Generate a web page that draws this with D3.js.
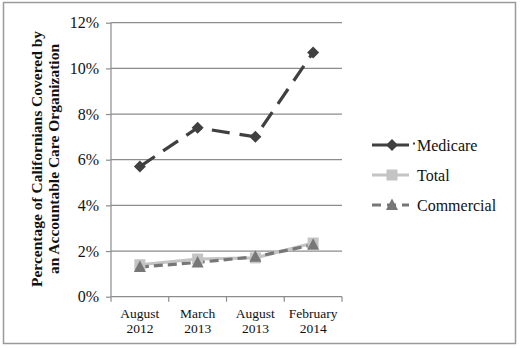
<!DOCTYPE html>
<html><head><meta charset="utf-8">
<script src="https://cdn.jsdelivr.net/npm/d3@7"></script>
<style>body{margin:0;background:#fff}svg{display:block}svg text{font-family:"Liberation Serif","Times New Roman",serif !important}</style>
</head><body><svg id="c" width="520" height="348"></svg>
<script>
const categories = [["August","2012"],["March","2013"],["August","2013"],["February","2014"]];
const medicare = [5.7, 7.4, 7.0, 10.7];
const total = [1.4, 1.65, 1.7, 2.35];
const commercial = [1.3, 1.5, 1.75, 2.27];
const yTicks = [0,2,4,6,8,10,12];
const seriesNames = ["Medicare","Total","Commercial"];

const svg = d3.select("#c");
svg.append("rect").attr("x",3.5).attr("y",2.5).attr("width",512).attr("height",341)
  .attr("fill","#fff").attr("stroke","#9a9a9a").attr("stroke-width",1.5);

const x = d3.scaleBand().domain(d3.range(categories.length)).range([111,342]);
const y = d3.scaleLinear().domain([0,12]).range([296.7,22.7]);
const cx = i => x(i) + x.bandwidth()/2;

// gridlines
svg.append("g").selectAll("line").data(yTicks.filter(d=>d>0)).join("line")
  .attr("x1",111).attr("x2",342).attr("y1",d=>y(d)).attr("y2",d=>y(d))
  .attr("stroke","#8c8c8c").attr("stroke-width",1.2);

// y axis
const ya = svg.append("g").attr("transform","translate(111,0)")
  .call(d3.axisLeft(y).tickValues(yTicks).tickFormat(d=>d+"%").tickSize(5).tickPadding(7));
ya.attr("font-family",null);
ya.select(".domain").attr("stroke","#8c8c8c").attr("stroke-width",1.2).attr("d","M0,"+y(12)+"V"+y(0));
ya.selectAll(".tick line").attr("stroke","#8c8c8c").attr("stroke-width",1.2);
ya.selectAll(".tick text").attr("font-size",16).attr("fill","#111");

// x axis
const xa = svg.append("g").attr("transform","translate(0,"+y(0)+")");
xa.append("line").attr("x1",111).attr("x2",342).attr("stroke","#8c8c8c").attr("stroke-width",1.2);
xa.selectAll("line.t").data(d3.range(categories.length+1)).join("line").attr("class","t")
  .attr("x1",i=>111+i*x.bandwidth()).attr("x2",i=>111+i*x.bandwidth()).attr("y1",0).attr("y2",5)
  .attr("stroke","#8c8c8c").attr("stroke-width",1.2);
const xl = xa.selectAll("text").data(categories).join("text")
  .attr("x",(d,i)=>cx(i)).attr("y",21).attr("text-anchor","middle").attr("font-size",13.5).attr("fill","#111");
xl.append("tspan").attr("x",(d,i)=>cx(i)).text(d=>d[0]);
xl.append("tspan").attr("x",(d,i)=>cx(i)).attr("dy",15).text(d=>d[1]);

// y title
const yt = svg.append("text").attr("transform","translate(0,159) rotate(-90)").attr("text-anchor","middle")
  .attr("font-size",15.5).attr("font-weight","bold").attr("fill","#111");
yt.append("tspan").attr("x",0).attr("y",42).text("Percentage of Californians Covered by");
yt.append("tspan").attr("x",0).attr("y",59).text("an Accountable Care Organization");

const line = d3.line().x((d,i)=>cx(i)).y(d=>y(d));
const styles = [
  {data:medicare, color:"#404040", dash:"18,10", w:3.2, marker:"diamond"},
  {data:total, color:"#c4c4c4", dash:null, w:3.2, marker:"square"},
  {data:commercial, color:"#777777", dash:"9,5", w:3.2, marker:"triangle"}
];
const order = [1,2,0];
order.forEach(k=>{
  const s = styles[k];
  svg.append("path").datum(s.data).attr("d",line).attr("fill","none")
    .attr("stroke",s.color).attr("stroke-width",s.w).attr("stroke-dasharray",s.dash);
});
function marker(g, type, color){
  if(type==="diamond") g.append("path").attr("d","M0,-6L6,0L0,6L-6,0Z").attr("fill",color);
  if(type==="square") g.append("rect").attr("x",-5.5).attr("y",-5.5).attr("width",11).attr("height",11).attr("fill",color);
  if(type==="triangle") g.append("path").attr("d","M0,-6.5L6,5L-6,5Z").attr("fill",color);
}
order.forEach(k=>{
  const s = styles[k];
  s.data.forEach((v,i)=>{
    marker(svg.append("g").attr("transform","translate("+cx(i)+","+y(v)+")"), s.marker, s.color);
  });
});

// legend
const ly = [145,175,205];
seriesNames.forEach((n,k)=>{
  const s = styles[k];
  const g = svg.append("g").attr("transform","translate(372,"+ly[k]+")");
  g.append("line").attr("x1",0).attr("x2",37).attr("stroke",s.color).attr("stroke-width",s.w)
    .attr("stroke-dasharray",k===2?"9,6":null);
  marker(g.append("g").attr("transform","translate(20,0)"), s.marker, s.color);
  if(k===0) g.append("rect").attr("x",41).attr("y",-2.5).attr("width",2).attr("height",2).attr("fill",s.color);
  g.append("text").attr("x",45).attr("y",5.5).attr("font-size",16).attr("fill","#111").text(n);
});
</script></body></html>
